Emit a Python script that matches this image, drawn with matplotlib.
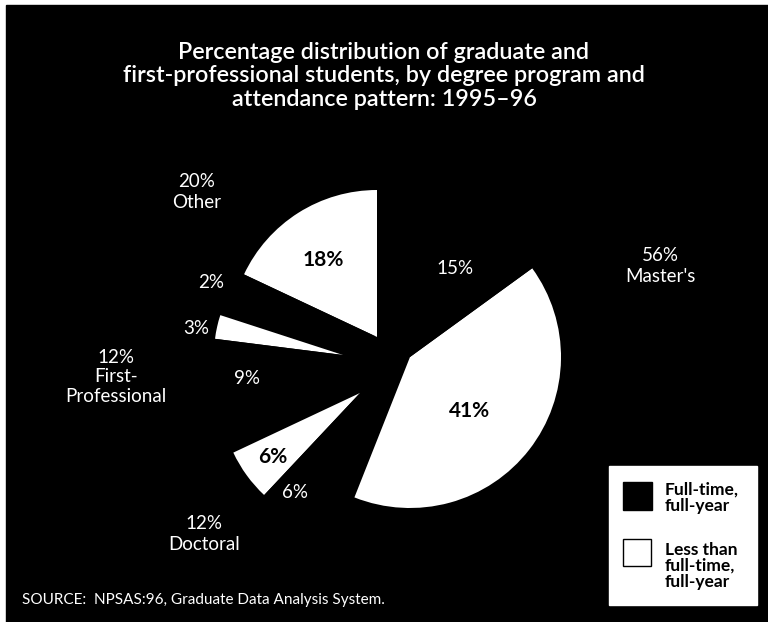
import matplotlib
matplotlib.use("Agg")
import matplotlib.pyplot as plt
from matplotlib.patches import Rectangle
import numpy as np

# data: share of students (%), per degree program
programs = ["Other", "First-Professional", "Doctoral", "Master's"]
less_than_ft = [18, 3, 6, 41]     # white slices
full_time = [2, 9, 6, 15]         # black slices
totals = [20, 12, 12, 56]

plt.rcParams["font.family"] = ["Lato", "DejaVu Sans"]

W, H = 768, 622
fig = plt.figure(figsize=(W / 100, H / 100), dpi=100, facecolor="white")
ax = fig.add_axes([0, 0, 1, 1])
ax.add_patch(Rectangle((6, 0), W - 6, H - 5, color="black", zorder=0))

# each group is pulled out by hand, so it gets its own centre / radius
centers = [(377, 285), (343, 267), (360, 229), (410, 265)]
radii = [147, 129, 140, 151]

start = 90.0
for i in range(len(programs)):
    ax.pie([less_than_ft[i] / 100, full_time[i] / 100], colors=["white", "black"],
           startangle=start, counterclock=True, radius=radii[i],
           center=centers[i], normalize=False,
           wedgeprops=dict(linewidth=0, antialiased=True))
    start += totals[i] * 3.6

ax.set_xlim(0, W)
ax.set_ylim(0, H)
ax.set_aspect("equal")
ax.set_axis_off()

def py(y):
    return H - y

title = ("Percentage distribution of graduate and\n"
         "first-professional students, by degree program and\n"
         "attendance pattern: 1995–96")
ax.text(384, py(76), title, ha="center", va="center", color="white",
        fontsize=16.8, fontweight="semibold", linespacing=1.15)

lab = dict(ha="center", va="center", color="white", fontsize=13.5)
ax.text(197, py(192), f"{totals[0]}%\nOther", linespacing=1.25, **lab)
ax.text(660, py(266), f"{totals[3]}%\nMaster's", linespacing=1.25, **lab)
ax.text(116, py(377), f"{totals[1]}%\nFirst-\nProfessional", linespacing=1.2, **lab)
ax.text(204, py(534), f"{totals[2]}%\nDoctoral", linespacing=1.25, **lab)

ax.text(455, py(268), f"{full_time[3]}%", **lab)
ax.text(211, py(283), f"{full_time[0]}%", **lab)
ax.text(196, py(329), f"{less_than_ft[1]}%", **lab)
ax.text(247, py(378), f"{full_time[1]}%", **lab)
ax.text(295, py(493), f"{full_time[2]}%", **lab)

blab = dict(ha="center", va="center", color="black", fontsize=15, fontweight="bold")
ax.text(323, py(260), f"{less_than_ft[0]}%", **blab)
ax.text(470, py(411), f"{less_than_ft[3]}%", **blab)
ax.text(273, py(457), f"{less_than_ft[2]}%", **blab)

ax.text(22, py(600), "SOURCE:  NPSAS:96, Graduate Data Analysis System.",
        ha="left", va="center", color="white", fontsize=11)

# legend box
ax.add_patch(Rectangle((609, py(605)), 148, 139, facecolor="white",
                       edgecolor="white", zorder=3))
ax.add_patch(Rectangle((623, py(510)), 29, 28, facecolor="black",
                       edgecolor="black", zorder=4))
ax.add_patch(Rectangle((623, py(566)), 28, 27, facecolor="white",
                       edgecolor="black", linewidth=1, zorder=4))
leg = dict(ha="left", va="center", color="black", fontsize=12.5,
           fontweight="bold", linespacing=1.0, zorder=5)
ax.text(665, py(498), "Full-time,\nfull-year", **leg)
ax.text(665, py(566), "Less than\nfull-time,\nfull-year", **leg)

fig.savefig("out.png", dpi=100, facecolor=fig.get_facecolor())
